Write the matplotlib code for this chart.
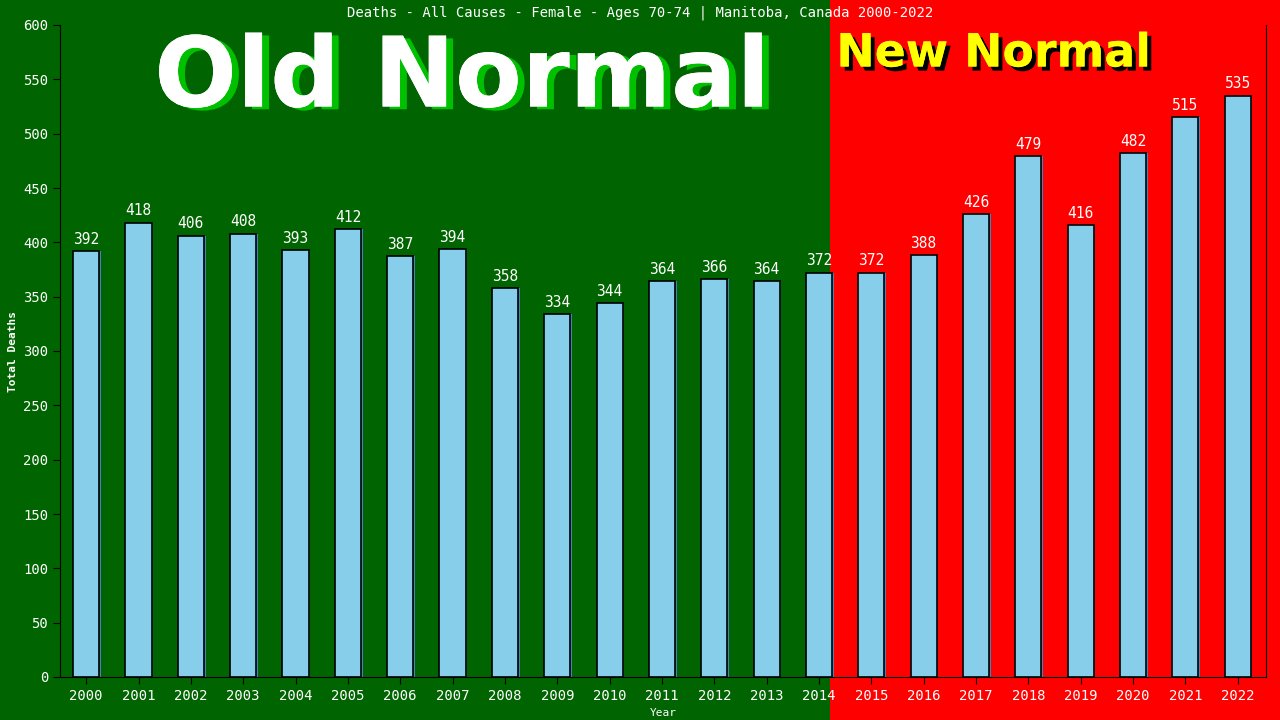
import matplotlib.pyplot as plt
import matplotlib.patheffects as pe
from matplotlib.patches import Rectangle

# data
years = list(range(2000, 2023))
deaths = [392, 418, 406, 408, 393, 412, 387, 394, 358, 334, 344, 364,
          366, 364, 372, 372, 388, 426, 479, 416, 482, 515, 535]

mono = 'DejaVu Sans Mono'

fig = plt.figure(figsize=(12.8, 7.2), dpi=100)
fig.patch.set_facecolor('#ff0000')
# green "old normal" background on the left
fig.patches.append(Rectangle((0, 0), 830 / 1280, 1, transform=fig.transFigure,
                             facecolor='#006400', edgecolor='none', zorder=-1))

ax = fig.add_axes([60 / 1280, 43 / 720, 1206 / 1280, 652 / 720])
ax.set_facecolor('none')
ax.set_zorder(2)

x = list(range(len(years)))
# shadow bars slightly offset
ax.bar([i + 0.03 for i in x], deaths, width=0.5, color='#4682b4', zorder=2)
ax.bar(x, deaths, width=0.5, color='#87ceeb', edgecolor='black', linewidth=1.2, zorder=3)

for i, v in zip(x, deaths):
    ax.text(i, v + 4, str(v), ha='center', va='bottom', color='white',
            fontsize=10.5, family=mono, zorder=4)

ax.set_xlim(-0.5, 22.54)
ax.set_ylim(0, 600)
ax.set_yticks(range(0, 601, 50))
ax.set_xticks(x)
ax.set_xticklabels([str(y) for y in years])
ax.tick_params(colors='black', labelcolor='white', labelsize=10, length=5)
for lbl in ax.get_xticklabels() + ax.get_yticklabels():
    lbl.set_family(mono)
for s in ['left', 'bottom', 'right']:
    ax.spines[s].set_color('black')
ax.spines['top'].set_visible(False)

ax.set_ylabel('Total Deaths', color='white', fontsize=8, family=mono, fontweight='bold')
ax.set_xlabel('Year', color='white', fontsize=8, family=mono, labelpad=4)

fig.text(0.5, 1 - 13 / 720, 'Deaths - All Causes - Female - Ages 70-74 | Manitoba, Canada 2000-2022',
         ha='center', va='center', color='white', fontsize=10, family=mono)

fig.text(462 / 1280, 1 - 80 / 720, 'Old Normal', ha='center', va='center', color='white',
         fontsize=70, fontweight='bold', family='DejaVu Sans',
         path_effects=[pe.withSimplePatchShadow(offset=(5, -2), shadow_rgbFace='#00c000', alpha=1),
                       pe.Normal()])
fig.text(994 / 1280, 1 - 54 / 720, 'New Normal', ha='center', va='center', color='yellow',
         fontsize=33, fontweight='bold', family='DejaVu Sans',
         path_effects=[pe.withSimplePatchShadow(offset=(3, -3), shadow_rgbFace='black', alpha=1),
                       pe.Normal()])

fig.savefig('out.png', dpi=100, facecolor=fig.get_facecolor())
